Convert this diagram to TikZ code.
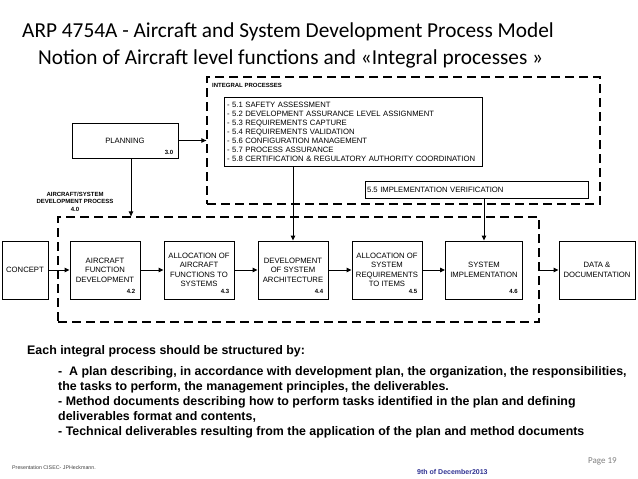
\documentclass[tikz,border=0pt]{standalone}
\usepackage{fontspec}
\setmainfont{Liberation Sans}
\newfontfamily\slidefont{Carlito}
\usetikzlibrary{arrows.meta,positioning}
\definecolor{datenavy}{RGB}{46,49,146}
\definecolor{pagegray}{RGB}{128,128,128}

\begin{document}
\begin{tikzpicture}[x=1pt,y=-1pt,
  procbox/.style={draw, line width=0.9pt, minimum width=70pt, minimum height=58pt, inner sep=1pt, align=center, font=\fontsize{7.7}{9.5}\selectfont},
  numtag/.style={anchor=south east, inner sep=0pt, font=\bfseries\fontsize{6}{6}\selectfont},
  frame/.style={draw, line width=1.3pt, dash pattern=on 9pt off 5pt, inner sep=0pt},
  flow/.style={-{Triangle[length=5pt,width=4.5pt]}, line width=0.9pt},
  titleline/.style={anchor=base west, inner sep=0pt, font=\slidefont\fontsize{21.3}{25}\selectfont},
  bodyline/.style={anchor=base west, inner sep=0pt, font=\bfseries\fontsize{12.4}{15}\selectfont},
]
  \useasboundingbox (0,0) rectangle (638,479);
  % Title
  \node[titleline] (title1) at (22,37.5) {ARP 4754A - Aircraft and System Development Process Model};
  \node[titleline] (title2) at (38,64.5) {Notion of Aircraft level functions and «Integral processes »};

  % Dashed process frames
  \node[frame, minimum width=393pt, minimum height=127pt] (integral) at (403.5,140.5) {};
  \node[frame, minimum width=481pt, minimum height=105pt] (devframe) at (298.5,269.5) {};
  \node[anchor=west, inner sep=0pt, font=\bfseries\fontsize{6}{6}\selectfont] (iplabel) at (212,85) {INTEGRAL PROCESSES};
  \node[align=center, inner sep=0pt, font=\bfseries\fontsize{6}{7.6}\selectfont] (devlabel) at (75,201.5) {AIRCRAFT/SYSTEM\\DEVELOPMENT PROCESS\\4.0};

  % Integral processes
  \node[draw, line width=0.9pt, text width=252pt, minimum height=69pt, inner sep=3pt, align=left, font=\fontsize{7.7}{9}\selectfont] (iplist) at (353,131.5)
    {- 5.1 SAFETY ASSESSMENT\\
     - 5.2 DEVELOPMENT ASSURANCE LEVEL ASSIGNMENT\\
     - 5.3 REQUIREMENTS CAPTURE\\
     - 5.4 REQUIREMENTS VALIDATION\\
     - 5.6 CONFIGURATION MANAGEMENT\\
     - 5.7 PROCESS ASSURANCE\\
     - 5.8 CERTIFICATION \& REGULATORY AUTHORITY COORDINATION};
  \node[draw, line width=0.9pt, text width=219pt, minimum height=17pt, inner sep=2pt, align=left, font=\fontsize{7.7}{9}\selectfont] (verif) at (476.5,189.5) {5.5 IMPLEMENTATION VERIFICATION};

  % Planning
  \node[procbox, minimum width=106pt, minimum height=35pt] (planning) at (125,140.5) {PLANNING};
  \node[numtag] (plantag) at ([shift={(-5,-3.5)}]planning.south east) {3.0};

  % Development chain
  \node[procbox, minimum width=46pt] (concept) at (25,270) {CONCEPT};
  \node[procbox] (afd) at (105,270) {AIRCRAFT\\FUNCTION\\DEVELOPMENT};
  \node[procbox] (allocfun) at (199,270) {ALLOCATION OF\\AIRCRAFT\\FUNCTIONS TO\\SYSTEMS};
  \node[procbox] (arch) at (293,270) {DEVELOPMENT\\OF SYSTEM\\ARCHITECTURE};
  \node[procbox] (allocreq) at (387,270) {ALLOCATION OF\\SYSTEM\\REQUIREMENTS\\TO ITEMS};
  \node[procbox, minimum width=77pt] (impl) at (484,270) {SYSTEM\\IMPLEMENTATION};
  \node[procbox, minimum width=76pt] (data) at (597,270) {DATA \&\\DOCUMENTATION};
  \node[numtag] (afdtag) at ([shift={(-5,-6)}]afd.south east) {4.2};
  \node[numtag] (allocfuntag) at ([shift={(-5,-6)}]allocfun.south east) {4.3};
  \node[numtag] (archtag) at ([shift={(-5,-6)}]arch.south east) {4.4};
  \node[numtag] (allocreqtag) at ([shift={(-5,-6)}]allocreq.south east) {4.5};
  \node[numtag] (impltag) at ([shift={(-5,-6)}]impl.south east) {4.6};

  % Connectors
  \draw[flow] (concept) -- (afd);
  \draw[flow] (afd) -- (allocfun);
  \draw[flow] (allocfun) -- (arch);
  \draw[flow] (arch) -- (allocreq);
  \draw[flow] (allocreq) -- (impl);
  \draw[flow] (impl.east -| devframe.east) -- (data.west);
  \draw[flow] (planning.east) -- (planning.east -| integral.west);
  \draw[flow] ([xshift=6pt]planning.south) -- ([xshift=6pt]planning.south |- devframe.north);
  \draw[flow] (arch.north |- iplist.south) -- (arch.north);
  \draw[flow] (impl.north |- verif.south) -- (impl.north);

  % Text below the diagram
  \node[bodyline] (intro) at (27,354) {Each integral process should be structured by:};
  \node[bodyline] (itemplan) at (58,375.5) {-\ \ A plan describing, in accordance with development plan, the organization, the responsibilities,};
  \node[bodyline] (itemplanb) at (58,390.5) {the tasks to perform, the management principles, the deliverables.};
  \node[bodyline] (itemmethod) at (58,405.5) {- Method documents describing how to perform tasks identified in the plan and defining};
  \node[bodyline] (itemmethodb) at (58,420.5) {deliverables format and contents,};
  \node[bodyline] (itemtech) at (58,435.5) {- Technical deliverables resulting from the application of the plan and method documents};

  % Footer
  \node[anchor=base west, inner sep=0pt, text=black!75, font=\fontsize{5.3}{6}\selectfont] (author) at (12,469) {Presentation CISEC- JPHeckmann.};
  \node[anchor=base west, inner sep=0pt, text=datenavy, font=\bfseries\fontsize{7}{8}\selectfont] (date) at (417,474.5) {9th of December2013};
  \node[anchor=base west, inner sep=0pt, text=pagegray, font=\slidefont\fontsize{9}{10}\selectfont] (page) at (588,463) {Page 19};
\end{tikzpicture}
\end{document}
